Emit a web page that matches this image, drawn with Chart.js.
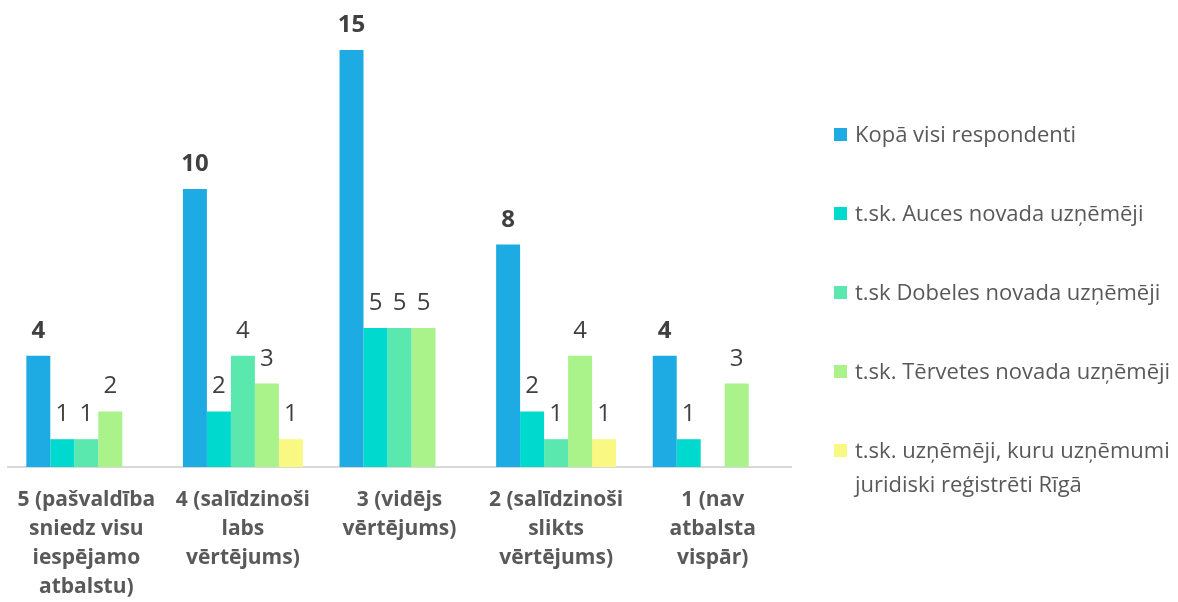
<!DOCTYPE html>
<html>
<head>
<meta charset="utf-8">
<script src="https://cdn.jsdelivr.net/npm/chart.js@4/dist/chart.umd.min.js"></script>
<style>
  html, body { margin: 0; padding: 0; background: #ffffff; }
  #wrap { width: 1178px; height: 602px; position: relative; }
</style>
</head>
<body>
<div id="wrap"><canvas id="c" width="1178" height="602"></canvas></div>
<script>
// Rating categories (multi-line axis labels)
const categories = [
  ['5 (pašvaldība', 'sniedz visu', 'iespējamo', 'atbalstu)'],
  ['4 (salīdzinoši', 'labs', 'vērtējums)'],
  ['3 (vidējs', 'vērtējums)'],
  ['2 (salīdzinoši', 'slikts', 'vērtējums)'],
  ['1 (nav', 'atbalsta', 'vispār)']
];

const seriesNames = [
  'Kopā visi respondenti',
  't.sk. Auces novada uzņēmēji',
  't.sk Dobeles novada uzņēmēji',
  't.sk. Tērvetes novada uzņēmēji',
  't.sk. uzņēmēji, kuru uzņēmumi juridiski reģistrēti Rīgā'
];

const totalAll   = [4, 10, 15, 8, 4];
const auce       = [1, 2, 5, 2, 1];
const dobele     = [1, 4, 5, 1, null];
const tervete    = [2, 3, 5, 4, 3];
const riga       = [null, 1, null, 1, null];

const seriesColors = ['#1eabe3', '#00d9ce', '#5be8ae', '#aaf28a', '#f8f882'];
const seriesValues = [totalAll, auce, dobele, tervete, riga];

// Value labels above each bar; the totals series is bold
const valueLabels = {
  id: 'valueLabels',
  afterDatasetsDraw(chart) {
    const ctx = chart.ctx;
    ctx.save();
    ctx.textAlign = 'center';
    ctx.textBaseline = 'alphabetic';
    ctx.fillStyle = '#404040';
    chart.data.datasets.forEach((ds, di) => {
      const meta = chart.getDatasetMeta(di);
      ctx.font = (di === 0 ? 'bold ' : '') + '24px "Open Sans"';
      meta.data.forEach((bar, i) => {
        const v = ds.data[i];
        if (v === null || v === undefined) return;
        ctx.fillText(String(v), bar.x, bar.y - 18);
      });
    });
    ctx.restore();
  }
};

// Legend on the right side with square markers
const sideLegend = {
  id: 'sideLegend',
  afterDraw(chart) {
    const ctx = chart.ctx;
    ctx.save();
    ctx.font = '22px "Open Sans"';
    ctx.textBaseline = 'alphabetic';
    ctx.textAlign = 'left';
    const boxX = 834, textX = 855, firstBase = 142, step = 79, lineH = 34;
    const maxW = chart.width - textX;
    chart.data.datasets.forEach((ds, i) => {
      const base = firstBase + i * step;
      ctx.fillStyle = ds.backgroundColor;
      ctx.fillRect(boxX, base - 14, 13, 13);
      ctx.fillStyle = '#595959';
      const words = ds.label.split(' ');
      const lines = [];
      let cur = '';
      words.forEach(w => {
        const t = cur ? cur + ' ' + w : w;
        if (ctx.measureText(t).width > maxW && cur) { lines.push(cur); cur = w; }
        else cur = t;
      });
      lines.push(cur);
      lines.forEach((ln, k) => ctx.fillText(ln, textX, base + k * lineH));
    });
    ctx.restore();
  }
};

new Chart(document.getElementById('c'), {
  type: 'bar',
  data: {
    labels: categories,
    datasets: seriesNames.map((name, i) => ({
      label: name,
      data: seriesValues[i],
      backgroundColor: seriesColors[i],
      borderWidth: 0,
      categoryPercentage: 0.766,
      barPercentage: 1.0
    }))
  },
  options: {
    responsive: false,
    animation: false,
    layout: { padding: { left: 8, right: 387, top: 50, bottom: 0 } },
    plugins: { legend: { display: false }, tooltip: { enabled: false } },
    scales: {
      x: {
        grid: { display: false },
        border: { display: true, color: '#d9d9d9', width: 2 },
        ticks: {
          color: '#595959',
          font: { family: '"Open Sans"', size: 21, weight: 'bold', lineHeight: 1.38 },
          padding: 11,
          maxRotation: 0,
          minRotation: 0,
          autoSkip: false
        },
        afterFit(scale) { scale.height = 135; }
      },
      y: {
        display: false,
        min: 0,
        max: 15
      }
    }
  },
  plugins: [valueLabels, sideLegend]
});
</script>
</body>
</html>
